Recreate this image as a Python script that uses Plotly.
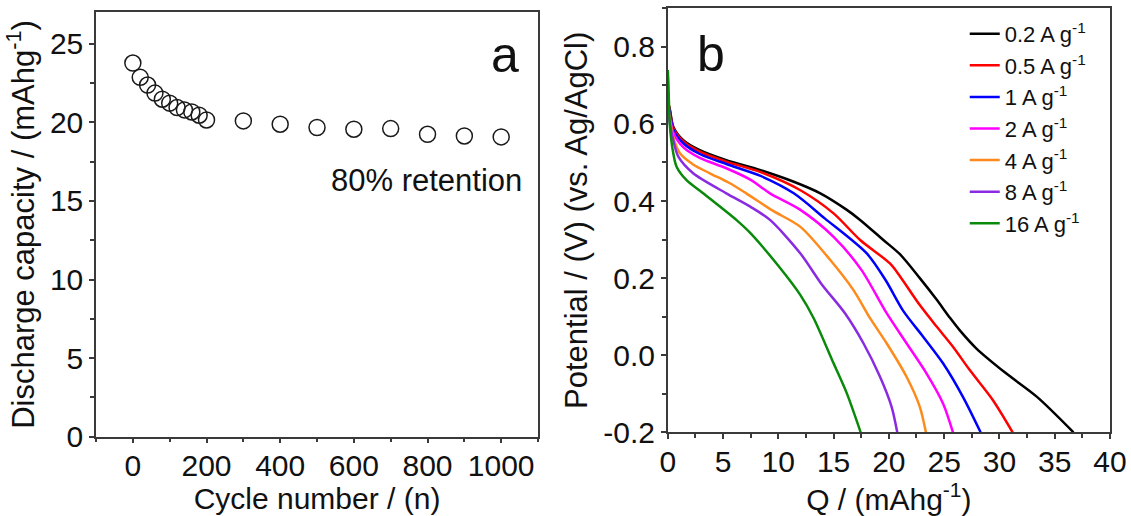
import plotly.graph_objects as go

# ---------- Panel a data ----------
cycles = [0, 20, 40, 60, 80, 100, 120, 140, 160, 180, 200, 300, 400, 500, 600, 700, 800, 900, 1000]
capacity = [23.77, 22.86, 22.37, 21.86, 21.47, 21.22, 20.94, 20.79, 20.66, 20.45, 20.15,
            20.09, 19.88, 19.67, 19.56, 19.60, 19.24, 19.13, 19.07]

# ---------- Panel b data ----------
labels = ["0.2 A g<sup>-1</sup>", "0.5 A g<sup>-1</sup>", "1 A g<sup>-1</sup>", "2 A g<sup>-1</sup>",
          "4 A g<sup>-1</sup>", "8 A g<sup>-1</sup>", "16 A g<sup>-1</sup>"]
colors = ["#000000", "#FF0000", "#0000FF", "#FF00FF", "#FF8A1C", "#8A2BE2", "#0A8A0A"]

q_02 = [0, 0.2, 0.5, 1.4, 2.9, 5.3, 8.4, 11.4, 13.8, 16.2, 17.4, 19.5, 21.0, 22.8, 24.3, 25.5, 26.4, 27.9, 30.6, 33.4, 36.7]
v_02 = [0.66, 0.636, 0.593, 0.558, 0.532, 0.506, 0.48, 0.45, 0.42, 0.377, 0.351, 0.299, 0.262, 0.2, 0.145, 0.098, 0.065, 0.018, -0.047, -0.108, -0.2]

q_05 = [0, 0.2, 0.5, 1.4, 2.9, 5.3, 8.4, 12.0, 15.0, 17.4, 20.1, 21.0, 22.8, 24.3, 25.8, 27.3, 29.4, 31.2]
v_05 = [0.66, 0.635, 0.59, 0.555, 0.528, 0.502, 0.475, 0.428, 0.368, 0.299, 0.238, 0.205, 0.13, 0.075, 0.022, -0.038, -0.116, -0.2]

q_1 = [0, 0.2, 0.5, 1.4, 2.9, 5.3, 8.4, 11.4, 14.2, 18.0, 19.7, 21.3, 23.1, 24.9, 26.7, 28.3]
v_1 = [0.655, 0.63, 0.585, 0.55, 0.522, 0.496, 0.465, 0.42, 0.355, 0.264, 0.195, 0.115, 0.048, -0.021, -0.108, -0.2]

q_2 = [0, 0.2, 0.5, 1.4, 2.9, 5.3, 7.5, 9.25, 12.0, 15.0, 17.5, 19.8, 21.6, 23.4, 24.9, 25.8]
v_2 = [0.65, 0.62, 0.578, 0.54, 0.512, 0.485, 0.455, 0.42, 0.377, 0.307, 0.222, 0.109, 0.031, -0.047, -0.125, -0.2]

q_4 = [0, 0.2, 0.5, 1.1, 2.3, 3.8, 5.5, 7.1, 9.5, 12.0, 14.7, 16.8, 18.3, 19.8, 21.6, 22.8, 23.35]
v_4 = [0.645, 0.61, 0.565, 0.524, 0.495, 0.472, 0.448, 0.42, 0.375, 0.333, 0.247, 0.169, 0.096, 0.031, -0.056, -0.134, -0.2]

q_8 = [0, 0.2, 0.5, 0.96, 2.3, 5.3, 7.5, 9.25, 12.0, 13.9, 16.0, 17.7, 19.2, 20.25, 20.76]
v_8 = [0.64, 0.6, 0.558, 0.515, 0.472, 0.42, 0.385, 0.351, 0.264, 0.185, 0.11, 0.031, -0.056, -0.134, -0.2]

q_16 = [0, 0.05, 0.2, 0.5, 0.8, 1.7, 3.2, 6.2, 7.5, 10.0, 12.0, 13.2, 15.0, 16.2, 17.45]
v_16 = [0.74, 0.714, 0.593, 0.524, 0.489, 0.454, 0.42, 0.351, 0.316, 0.232, 0.156, 0.096, -0.021, -0.099, -0.2]

curves_q = [q_02, q_05, q_1, q_2, q_4, q_8, q_16]
curves_v = [v_02, v_05, v_1, v_2, v_4, v_8, v_16]

b_yticks = [-0.2, 0.0, 0.2, 0.4, 0.6, 0.8]
b_yticktext = ["-0.2", "0.0", "0.2", "0.4", "0.6", "0.8"]

FONT = "Liberation Sans, Arial, sans-serif"
AXC = "#3a3a3a"

fig = go.Figure()

fig.add_trace(go.Scatter(
    x=cycles, y=capacity, mode="markers", showlegend=False,
    marker=dict(symbol="circle-open", size=16, color="#1a1a1a", line=dict(width=1.5)),
    xaxis="x", yaxis="y"))

for q, v, lab, c in zip(curves_q, curves_v, labels, colors):
    fig.add_trace(go.Scatter(
        x=q, y=v, mode="lines", name=lab,
        line=dict(color=c, width=2.5, shape="spline", smoothing=0.8),
        xaxis="x2", yaxis="y2"))

axis_common = dict(
    showline=True, mirror=True, linecolor=AXC, linewidth=1.5,
    ticks="outside", ticklen=5, tickwidth=1.5, tickcolor=AXC,
    showgrid=False, zeroline=False, automargin=False,
    tickfont=dict(family=FONT, size=30, color="#111111"),
)
minor_common = dict(ticks="outside", ticklen=4, tickcolor=AXC, tickwidth=1.5)

fig.update_layout(
    width=1131, height=516, autosize=False,
    margin=dict(l=0, r=0, t=0, b=0),
    paper_bgcolor="white", plot_bgcolor="white",
    font=dict(family=FONT, color="#111111"),
    xaxis=dict(domain=[0.0849, 0.4757], range=[-100, 1100], tick0=0, dtick=200,
               minor=dict(dtick=100, **minor_common), ticklabelstandoff=-3,
               title=dict(text="Cycle number / (n)", font=dict(size=30), standoff=6),
               anchor="y", **axis_common),
    yaxis=dict(domain=[0.1537, 0.9762], range=[0, 27], tick0=0, dtick=5,
               minor=dict(dtick=2.5, **minor_common),
               title=dict(text="Discharge capacity / (mAhg<sup>-1</sup>)", font=dict(size=31), standoff=6),
               anchor="x", **axis_common),
    xaxis2=dict(domain=[0.5904, 0.9814], range=[0, 40], tick0=0, dtick=5,
                minor=dict(dtick=2.5, **minor_common), ticklabelstandoff=-3,
                title=dict(text="Q / (mAhg<sup>-1</sup>)", font=dict(size=30), standoff=6),
                anchor="y2", **axis_common),
    yaxis2=dict(domain=[0.1622, 0.9839], range=[-0.2, 0.9], tickmode="array",
                tickvals=b_yticks, ticktext=b_yticktext,
                minor=dict(dtick=0.1, tick0=-0.2, **minor_common),
                title=dict(text="Potential / (V) (vs. Ag/AgCl)", font=dict(size=31), standoff=6),
                anchor="x2", **axis_common),
    legend=dict(x=0.853, y=0.975, xanchor="left", yanchor="top",
                font=dict(family=FONT, size=22, color="#111111"),
                bgcolor="rgba(0,0,0,0)", borderwidth=0, tracegroupgap=0),
    annotations=[
        dict(text="a", x=0.4465, y=0.8934, xref="paper", yref="paper", showarrow=False,
             font=dict(family=FONT, size=50, color="#111111"), xanchor="center", yanchor="middle"),
        dict(text="b", x=0.6286, y=0.8953, xref="paper", yref="paper", showarrow=False,
             font=dict(family=FONT, size=50, color="#111111"), xanchor="center", yanchor="middle"),
        dict(text="80% retention", x=0.3767, y=0.651, xref="paper", yref="paper", showarrow=False,
             font=dict(family=FONT, size=31, color="#111111"), xanchor="center", yanchor="middle"),
    ],
)

fig.write_html("out.html")
